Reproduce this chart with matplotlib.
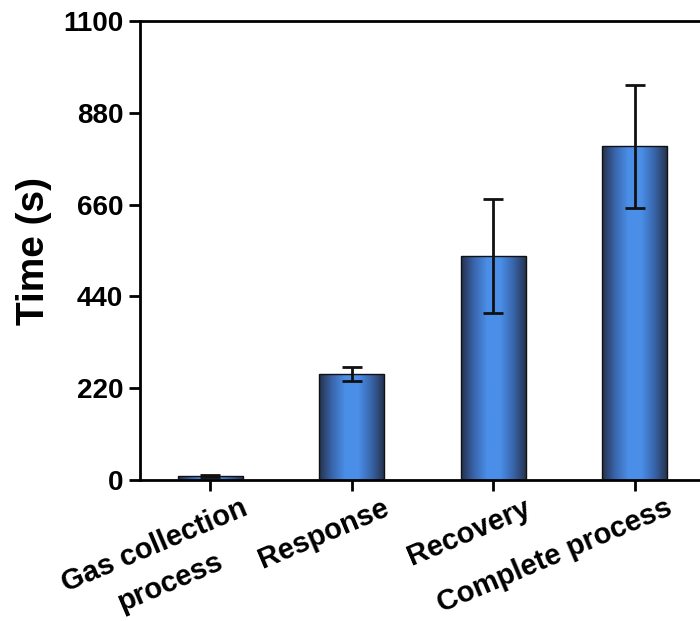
import numpy as np
import matplotlib
matplotlib.use("Agg")
import matplotlib.pyplot as plt
import matplotlib.transforms as mtransforms
from matplotlib.colors import LinearSegmentedColormap
from matplotlib.patches import Rectangle

categories = ["Gas collection\nprocess", "Response", "Recovery", "Complete process"]
values = [10, 254, 537, 800]
errors = [3, 17, 137, 147]
yticks = [0, 220, 440, 660, 880, 1100]

plt.rcParams['font.family'] = ['Liberation Sans', 'DejaVu Sans']
plt.rcParams['font.weight'] = 'bold'

fig = plt.figure(figsize=(7.0, 6.21), dpi=100)
ax = fig.add_axes([0.2, 0.227, 0.8, 0.739])

x = np.arange(len(categories))
width = 0.46
cmap = LinearSegmentedColormap.from_list(
    "barg", ["#25314a", "#3a66ad", "#4a8fe9", "#4a8ee8", "#3864a8", "#25314a"])
grad = np.linspace(0, 1, 256).reshape(1, -1)

bars = ax.bar(x, values, width=width, color='none', edgecolor='#111111', linewidth=1.0, zorder=3)
for b in bars:
    x0, y0 = b.get_x(), b.get_y()
    w, h = b.get_width(), b.get_height()
    im = ax.imshow(grad, cmap=cmap, aspect='auto', extent=[x0, x0 + w, y0, y0 + h],
                   zorder=2, interpolation='bilinear')
    clip = Rectangle((x0, y0), w, h, transform=ax.transData)
    im.set_clip_path(clip)

ax.errorbar(x, values, yerr=errors, fmt='none', ecolor='#111111', elinewidth=2,
            capsize=7, capthick=2, zorder=4)

ax.set_xlim(-0.495, 3.46)
ax.set_ylim(0, 1100)
ax.set_yticks(yticks)
ax.set_yticklabels([str(t) for t in yticks], fontsize=20, fontweight='bold')
ax.set_xticks(x)
ax.set_xticklabels([])

base = ax.get_xaxis_transform()
offset = mtransforms.ScaledTranslation(30 / 100, -14 / 100, fig.dpi_scale_trans)
for xi, lab in zip(x, categories):
    ax.text(xi, 0, lab, transform=base + offset, fontsize=21, fontweight='bold',
            rotation=23, ha='right', va='top', rotation_mode='anchor',
            multialignment='center', linespacing=1.55, clip_on=False)

ax.set_ylabel("Time (s)", fontsize=28, fontweight='bold', labelpad=8)

for s in ['left', 'bottom', 'top']:
    ax.spines[s].set_linewidth(2)
ax.spines['right'].set_visible(False)
ax.tick_params(axis='both', direction='out', length=8, width=2, pad=4)

fig.savefig("out.png", dpi=100)
